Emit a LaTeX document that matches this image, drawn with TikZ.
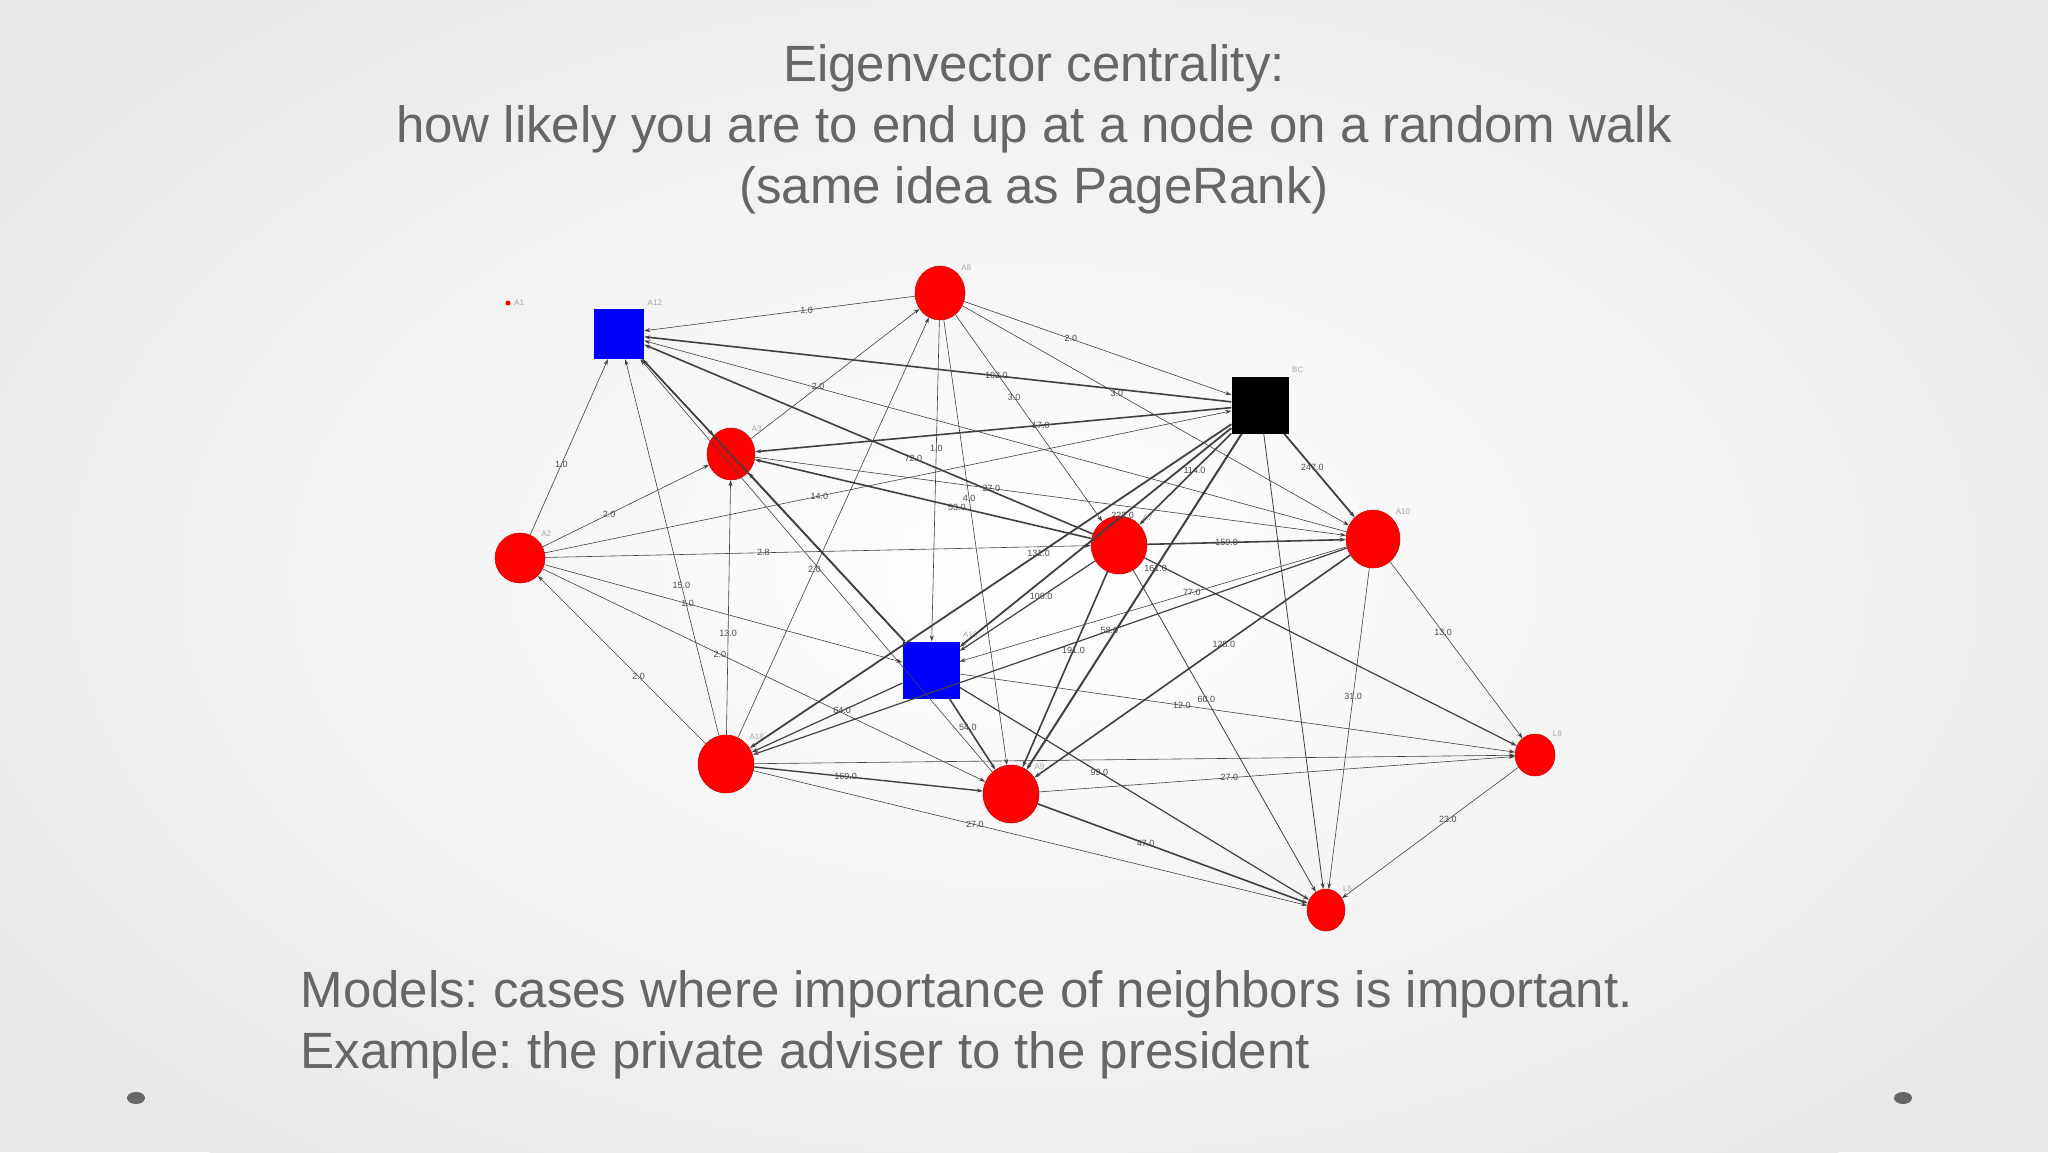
\documentclass[tikz,border=0pt]{standalone}
\usepackage{fontspec}
\setmainfont{Liberation Sans}
\usetikzlibrary{shapes.geometric,arrows.meta}
\frenchspacing
\begin{document}
\begin{tikzpicture}[x=1pt,y=-1pt,
  rnode/.style={ellipse,fill=red,draw=red!80!black,line width=0.5pt,inner sep=0pt},
  bnode/.style={rectangle,fill=blue,inner sep=0pt,minimum size=50pt},
  knode/.style={rectangle,fill=black,inner sep=0pt,minimum size=57pt},
  nl/.style={font=\fontsize{8}{8}\selectfont,text=gray!70},
  edge/.style={draw=black!75,-{Stealth[length=6pt,width=4pt]},line width=0.7pt},
  lbl/.style={font=\fontsize{9}{9}\selectfont,text=black!70,inner sep=1pt,pos=0.4},
  ttl/.style={font=\fontsize{51}{61}\selectfont,text=black!60}]
\useasboundingbox (0,0) rectangle (2048,1152);
\begin{scope}
\clip (0,0) rectangle (2048,1152);
\fill[black!9] (0,0) rectangle (2048,1152);
\shade[inner color=white,outer color=black!9] (1024,576) ellipse (1250 and 760);
\end{scope}
% title
\node[ttl,align=center] (title) at (1034,129) {Eigenvector centrality:\\how likely you are to end up at a node on a random walk\\(same idea as PageRank)};
% nodes
\node[circle,fill=red,inner sep=0pt,minimum size=5pt] (A1) at (508,303) {};
\node[nl,right] (A1l) at (A1.east) {A1};
\node[bnode] (A12) at (619,334) {};
\node[nl,anchor=south west] (A12l) at (A12.north east) {A12};
\node[rnode,minimum width=50pt,minimum height=54pt] (A8) at (940,293) {};
\node[nl,anchor=south west] (A8l) at (A8.north east) {A8};
\node[knode] (BC) at (1260,405) {};
\node[nl,anchor=south west] (BCl) at (BC.north east) {BC};
\node[rnode,minimum width=48pt,minimum height=52pt] (A3) at (731,454) {};
\node[nl,anchor=south west] (A3l) at (A3.north east) {A3};
\node[rnode,minimum width=50pt,minimum height=50pt] (A2) at (520,558) {};
\node[nl,anchor=south west] (A2l) at (A2.north east) {A2};
\node[rnode,minimum width=56pt,minimum height=58pt] (A7) at (1119,545) {};
\node[nl,anchor=south west] (A7l) at (A7.north east) {A7};
\node[rnode,minimum width=54pt,minimum height=58pt] (A10) at (1373,539) {};
\node[nl,anchor=south west] (A10l) at (A10.north east) {A10};
\node[bnode,minimum size=57pt] (A13) at (931,670) {};
\node[nl,anchor=south west] (A13l) at (A13.north east) {A13};
\node[rnode,minimum width=56pt,minimum height=58pt] (BL) at (726,764) {};
\node[nl,anchor=south west] (BLl) at (BL.north east) {A18};
\node[rnode,minimum width=56pt,minimum height=58pt] (A9) at (1011,794) {};
\node[nl,anchor=south west] (A9l) at (A9.north east) {A9};
\node[rnode,minimum width=40pt,minimum height=42pt] (L8) at (1535,755) {};
\node[nl,anchor=south west] (L8l) at (L8.north east) {L8};
\node[rnode,minimum width=38pt,minimum height=42pt] (L5) at (1326,910) {};
\node[nl,anchor=south west] (L5l) at (L5.north east) {L5};
% edges
\foreach \a/\b/\l/\w in {
 A8/A12/1.0/0.6, A3/A8/2.0/0.6, A8/BC/2.0/0.6, A8/A10/3.0/0.6, A8/A7/3.0/0.6,
 A8/A13/1.0/0.6, A8/A9/4.0/0.6, BC/A12/102.0/1.6, A7/A12/72.0/1.6, A10/A12//0.6,
 A2/A12/1.0/0.6, A9/A12//0.6, A13/A12//1.6, A13/A3//1.6, BC/A3/17.0/1.6,
 A2/A3/2.0/0.6, A2/BC/14.0/0.6, A2/A7/2.8/0.6, A2/A13/1.0/0.6, A2/A9/2.0/0.6,
 BL/A2/2.0/0.6, BL/A3/13.0/0.6, BL/A8/2.0/0.6, BL/A12/15.0/0.6,
 A3/A10/27.0/0.6, A7/A3/53.0/1.6, A7/A10/159.0/1.6, BC/A7/114.0/1.6,
 BC/A13/222.0/1.8, BC/BL/131.0/1.8, BC/A9/161.0/2.0, BC/A10/247.0/1.8, BC/L5//0.8,
 A7/A13/108.0/1.2, A7/A9/191.0/1.6, A7/L5/60.0/0.8, A7/L8//1.2,
 A10/A13/77.0/0.6, A10/BL/58.0/1.2, A10/A9/128.0/1.6, A10/L8/13.0/0.6, A10/L5/31.0/0.6,
 A13/A9/54.0/1.6, A13/BL/64.0/1.2, A13/L8/12.0/0.6, A13/L5/99.0/1.2,
 BL/A9/169.0/1.4, BL/L5/27.0/0.6, BL/L8//0.6, A9/L5/47.0/1.6, A9/L8/27.0/0.6,
 L8/L5/23.0/0.6, A12/A3//1.2}
 {\draw[edge,line width=\w] (\a) -- node[lbl]{\l} (\b);}
% bottom text
\node[ttl,align=left,anchor=north west] (bottom) at (297,967) {Models: cases where importance of neighbors is important.\\Example: the private adviser to the president};
\fill[black!60] (136,1098) ellipse (9 and 6);
\fill[black!60] (1903,1098) ellipse (9 and 6);
\end{tikzpicture}
\end{document}
